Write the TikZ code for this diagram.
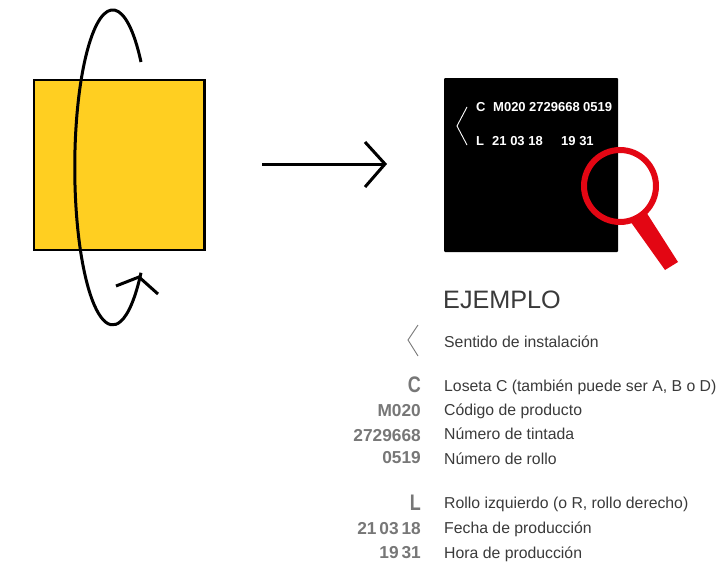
\documentclass[tikz,border=0pt]{standalone}
\usepackage{fontspec}
\setmainfont{Liberation Sans}
\newfontfamily\letrafont[FakeStretch=0.8]{Liberation Sans}
\definecolor{amarillo}{HTML}{FFCF21}
\definecolor{rojo}{HTML}{E30613}
\definecolor{gris}{HTML}{777777}
\definecolor{texto}{HTML}{3A3A3A}
\tikzset{
    giro/.style={black, line width=3pt},
    etiqueta/.style={anchor=base west, inner sep=0pt, text=white, font=\fontsize{13}{15}\selectfont\bfseries},
    leyenda/.style={anchor=base west, inner sep=0pt, text=texto, font=\fontsize{15.8}{18}\selectfont},
    codigo/.style={anchor=base east, inner sep=0pt, text=gris, font=\fontsize{17.3}{19}\selectfont\bfseries},
    letra/.style={anchor=base east, inner sep=0pt, text=gris, font=\fontsize{22.5}{24}\letrafont\bfseries},
}
\begin{document}
\begin{tikzpicture}[x=1pt, y=-1pt]
    \useasboundingbox (0,0) rectangle (716,562);

    % loseta y giro
    \draw[fill=amarillo, line width=2.8pt] (34,80) rectangle (204.5,250);
    \draw[giro] (141,62) arc[start angle=-42, end angle=-318, x radius=38, y radius=157.5];
    \draw[giro] (116,286) -- (139,277) -- (158,294);

    % flecha
    \coordinate (inicio) at (262,164);
    \coordinate (punta) at (385,164);
    \draw[giro] (inicio) -- (punta);
    \draw[giro] (365,142) -- (punta) -- (365,187);

    % etiqueta negra
    \fill[black, rounded corners=1pt] (444,78) rectangle (618,252);
    \draw[white, line width=0.9pt] (467,107) -- (457,126) -- (467,145);
    \node[etiqueta] (c) at (476,111) {C};
    \node[etiqueta] (mcod) at (493,111) {M020};
    \node[etiqueta] (tint) at (529,111) {2729668};
    \node[etiqueta] (roll) at (583,111) {0519};
    \node[etiqueta] (l) at (476,145) {L};
    \node[etiqueta] (fecha) at (492,145) {21 03 18};
    \node[etiqueta] (hora) at (561,145) {19 31};

    % lupa
    \draw[rojo, line width=6pt] (620,186) circle (36);
    \fill[rojo] (630.8,222) -- (644.8,210) -- (678,262) -- (665,270) -- cycle;

    % leyenda
    \node[anchor=base west, inner sep=0pt, text=texto, font=\fontsize{25.2}{28}\selectfont] (ejemplo) at (443,308) {EJEMPLO};
    \draw[gris, line width=0.9pt] (418,325) -- (408,340) -- (418,356);
    \node[leyenda] (sentido) at (444,347) {Sentido de instalación};
    \foreach \y/\txt in {391/Loseta C (también puede ser A{,} B o D), 415/Código de producto, 439/Número de tintada, 464/Número de rollo, 508/Rollo izquierdo (o R{,} rollo derecho), 533/Fecha de producción, 558/Hora de producción}
        \node[leyenda] at (444,\y) {\txt};
    \node[letra] (cgr) at (421,392) {C};
    \node[letra] (lgr) at (421,510) {L};
    \foreach \y/\txt in {416/M020, 441/2729668, 463/0519, 534/21\,03\,18, 558/19\,31}
        \node[codigo] at (421,\y) {\txt};
\end{tikzpicture}
\end{document}
